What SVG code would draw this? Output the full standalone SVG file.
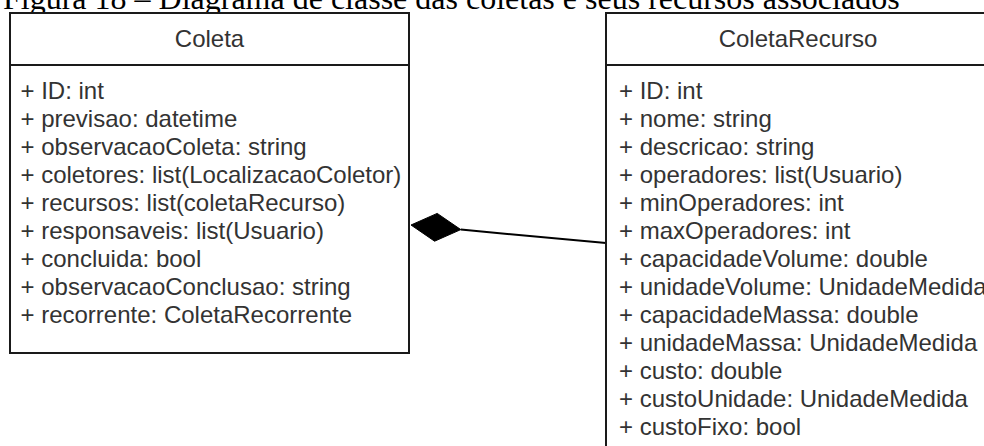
<svg xmlns="http://www.w3.org/2000/svg" width="984" height="446" viewBox="0 0 984 446">
  <style>
    .caption { font-family: "Liberation Serif", "Times New Roman", serif; font-size: 32px; fill: #000; }
    .box { fill: #fff; stroke: #1a1a1a; stroke-width: 2; }
    .sep { stroke: #1a1a1a; stroke-width: 2; }
    .title { font-family: "Liberation Sans", Arial, sans-serif; font-size: 24px; fill: #333; text-anchor: middle; }
    .attr { font-family: "Liberation Sans", Arial, sans-serif; font-size: 24px; fill: #333; }
    .link { stroke: #000; stroke-width: 2; fill: none; }
    .diamond { fill: #000; stroke: #000; stroke-width: 1; }
  </style>

  <rect width="984" height="446" fill="#fff"/>

  <!-- figure caption, partly above the top edge -->
  <text class="caption" x="3" y="9">Figura 18 – Diagrama de classe das coletas e seus recursos associados</text>

  <!-- composition: Coleta owns ColetaRecurso -->
  <g id="connectors">
    <line class="link" x1="460.8" y1="229.6" x2="606" y2="243"/>
    <polygon class="diamond" points="411,225 437.2,213.4 460.8,229.6 434.6,241.2"/>
  </g>

  <g id="coleta">
    <rect class="box" x="10" y="13" width="399" height="340"/>
    <line class="sep" x1="10" y1="65" x2="409" y2="65"/>
    <text class="title" x="209.5" y="46.5">Coleta</text>
    <text class="attr" x="20.5" y="99">+ ID: int</text>
    <text class="attr" x="20.5" y="127">+ previsao: datetime</text>
    <text class="attr" x="20.5" y="155">+ observacaoColeta: string</text>
    <text class="attr" x="20.5" y="183">+ coletores: list(LocalizacaoColetor)</text>
    <text class="attr" x="20.5" y="211">+ recursos: list(coletaRecurso)</text>
    <text class="attr" x="20.5" y="239">+ responsaveis: list(Usuario)</text>
    <text class="attr" x="20.5" y="267">+ concluida: bool</text>
    <text class="attr" x="20.5" y="295">+ observacaoConclusao: string</text>
    <text class="attr" x="20.5" y="323">+ recorrente: ColetaRecorrente</text>
  </g>

  <g id="coletaRecurso">
    <rect class="box" x="606" y="13" width="390" height="450"/>
    <line class="sep" x1="606" y1="65" x2="996" y2="65"/>
    <text class="title" x="798" y="46.5">ColetaRecurso</text>
    <text class="attr" x="619" y="99">+ ID: int</text>
    <text class="attr" x="619" y="127">+ nome: string</text>
    <text class="attr" x="619" y="155">+ descricao: string</text>
    <text class="attr" x="619" y="183">+ operadores: list(Usuario)</text>
    <text class="attr" x="619" y="211">+ minOperadores: int</text>
    <text class="attr" x="619" y="239">+ maxOperadores: int</text>
    <text class="attr" x="619" y="267">+ capacidadeVolume: double</text>
    <text class="attr" x="619" y="295">+ unidadeVolume: UnidadeMedida</text>
    <text class="attr" x="619" y="323">+ capacidadeMassa: double</text>
    <text class="attr" x="619" y="351">+ unidadeMassa: UnidadeMedida</text>
    <text class="attr" x="619" y="379">+ custo: double</text>
    <text class="attr" x="619" y="407">+ custoUnidade: UnidadeMedida</text>
    <text class="attr" x="619" y="435">+ custoFixo: bool</text>
  </g>
</svg>
